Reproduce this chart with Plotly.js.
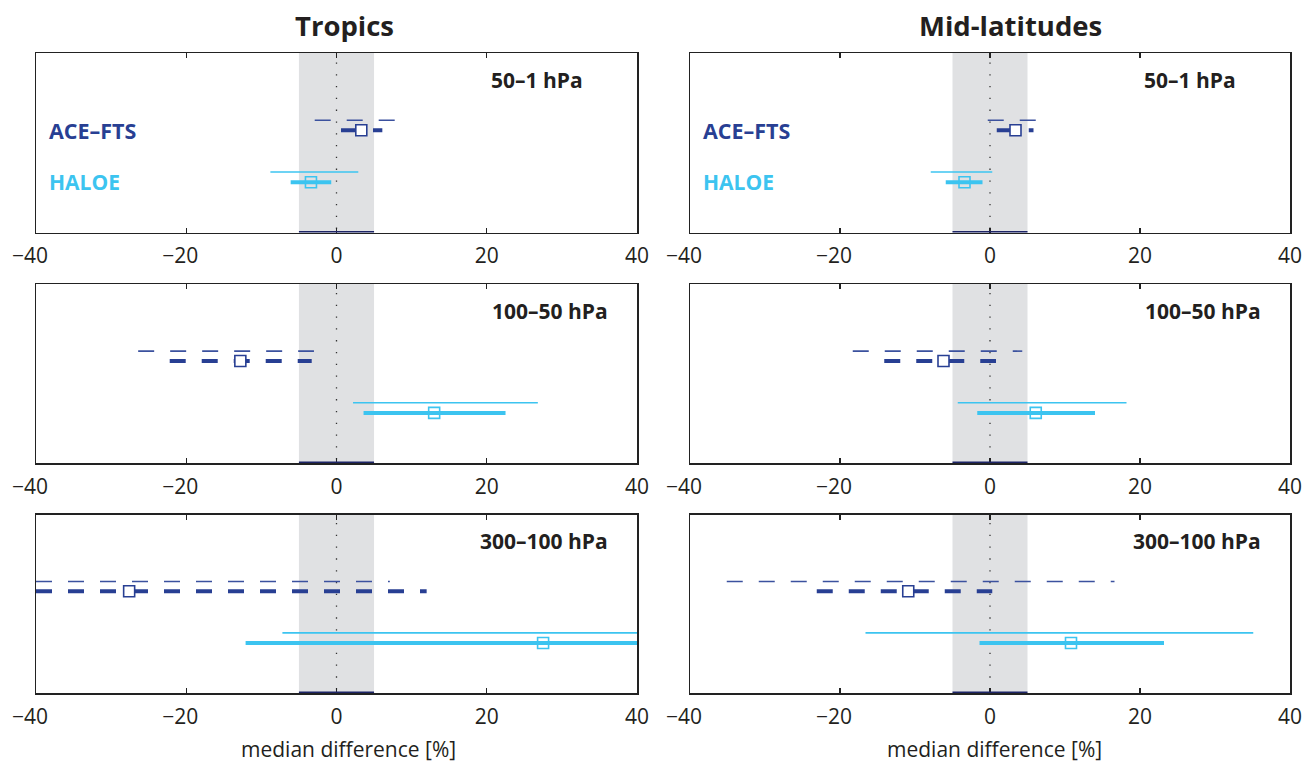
<!DOCTYPE html>
<html>
<head>
<meta charset="utf-8">
<script src="https://cdn.plot.ly/plotly-3.0.1.min.js"></script>
<style>html,body{margin:0;padding:0;background:#fff;}#chart{width:1314px;height:769px;}</style>
</head>
<body>
<div id="chart"></div>
<script>
// ---------------- data ----------------
const regions = ['50–1 hPa', '100–50 hPa', '300–100 hPa'];
const columns = ['Tropics', 'Mid-latitudes'];
const xTicks = [-40, -20, 0, 20, 40];
const bandHalfWidth = 5;

// Tropics
const aceTropMedian = [3.3, -12.8, -27.6];
const aceTropInner  = [[0.6, 6.1], [-22.2, -3.3], [-40, 12.0]];
const aceTropOuter  = [[-2.9, 7.8], [-26.4, -3.0], [-40, 7.1]];
const haloeTropMedian = [-3.4, 13.0, 27.5];
const haloeTropInner  = [[-6.1, -0.7], [3.6, 22.5], [-12.1, 41]];
const haloeTropOuter  = [[-8.8, 2.9], [2.2, 26.8], [-7.2, 41]];

// Mid-latitudes
const aceMidMedian = [3.4, -6.2, -10.9];
const aceMidInner  = [[0.9, 5.8], [-14.1, 0.8], [-23.1, 0.3]];
const aceMidOuter  = [[-0.3, 6.1], [-18.3, 4.3], [-35.1, 16.6]];
const haloeMidMedian = [-3.4, 6.1, 10.8];
const haloeMidInner  = [[-5.9, -1.0], [-1.7, 14.0], [-1.4, 23.2]];
const haloeMidOuter  = [[-7.9, 0.3], [-4.3, 18.2], [-16.6, 35.1]];

// ---------------- styling ----------------
const ACE = '#283f93';
const ACE_THIN = '#3b519e';
const HALOE = '#3cc4f0';
const TXT = '#231f20';
const FONT = '"Open Sans", "Noto Sans", sans-serif';

const yRow = {aceOuter: 6.25, aceInner: 5.7, haloeOuter: 3.37, haloeInner: 2.8};

const W = 1314, H = 769;
const colX = [[36, 637], [690, 1290]];
const rowY = [[53, 232.5], [284, 463], [514.5, 693]];
const px = v => v / W;
const py = v => 1 - v / H;

const sets = [
  {aceM: aceTropMedian, aceI: aceTropInner, aceO: aceTropOuter, haM: haloeTropMedian, haI: haloeTropInner, haO: haloeTropOuter},
  {aceM: aceMidMedian, aceI: aceMidInner, aceO: aceMidOuter, haM: haloeMidMedian, haI: haloeMidInner, haO: haloeMidOuter}
];

const traces = [];
const layout = {
  width: W, height: H,
  margin: {l: 0, r: 0, t: 0, b: 0},
  paper_bgcolor: '#fff', plot_bgcolor: '#fff',
  showlegend: false,
  font: {family: FONT, color: TXT},
  shapes: [], annotations: []
};

let k = 0;
for (let c = 0; c < 2; c++) {
  for (let r = 0; r < 3; r++) {
    k++;
    const xa = 'x' + (k === 1 ? '' : k), ya = 'y' + (k === 1 ? '' : k);
    const xk = 'xaxis' + (k === 1 ? '' : k), yk = 'yaxis' + (k === 1 ? '' : k);
    layout[xk] = {
      domain: [px(colX[c][0]), px(colX[c][1])],
      anchor: ya, range: [-40, 40],
      tickvals: xTicks,
      ticktext: xTicks.map(v => v < 0 ? '\u2212' + Math.abs(v) + '\u2007' : String(v)),
      ticks: 'inside', ticklen: 5, tickwidth: 1.2, tickcolor: '#222',
      ticklabelstandoff: 4,
      showline: true, linecolor: '#222', linewidth: 1.5, mirror: 'ticks',
      showgrid: false, zeroline: false, fixedrange: true,
      tickfont: {size: 21, family: FONT, color: TXT}
    };
    layout[yk] = {
      domain: [py(rowY[r][1]), py(rowY[r][0])],
      anchor: xa, range: [0, 10],
      showticklabels: false, ticks: '',
      showline: true, linecolor: '#222', linewidth: 1.5, mirror: true,
      showgrid: false, zeroline: false, fixedrange: true
    };
    // grey band and dotted zero line
    layout.shapes.push({type: 'rect', xref: xa, yref: ya, x0: -bandHalfWidth, x1: bandHalfWidth, y0: 0, y1: 10,
      fillcolor: '#e0e1e3', line: {width: 0}, layer: 'below'});
    layout.shapes.push({type: 'line', xref: xa, yref: ya, x0: 0, x1: 0, y0: 0.2, y1: 9.8,
      line: {color: '#333', width: 1.3, dash: '1.3px,10.5px'}, layer: 'below'});
    layout.shapes.push({type: 'line', xref: xa, yref: ya, x0: -bandHalfWidth, x1: bandHalfWidth, y0: 0, y1: 0,
      line: {color: '#1d2466', width: 3}, layer: 'above'});

    const s = sets[c];
    const add = (xs, y, color, width, dash) => traces.push({
      type: 'scatter', mode: 'lines', xaxis: xa, yaxis: ya,
      x: xs, y: [y, y], line: {color: color, width: width, dash: dash}, hoverinfo: 'skip'
    });
    add(s.aceO[r], yRow.aceOuter, ACE_THIN, 1.6, '16px,16px');
    add(s.aceI[r], yRow.aceInner, ACE, 4, '16px,16px');
    add(s.haO[r], yRow.haloeOuter, HALOE, 1.6, 'solid');
    add(s.haI[r], yRow.haloeInner, HALOE, 4, 'solid');
    traces.push({type: 'scatter', mode: 'markers', xaxis: xa, yaxis: ya, cliponaxis: true,
      x: [s.aceM[r]], y: [yRow.aceInner],
      marker: {symbol: 'square', size: 11, color: '#fff', line: {color: ACE, width: 1.6}}});
    traces.push({type: 'scatter', mode: 'markers', xaxis: xa, yaxis: ya, cliponaxis: true,
      x: [s.haM[r]], y: [yRow.haloeInner],
      marker: {symbol: 'square-open', size: 11, color: HALOE, line: {color: HALOE, width: 1.6}}});

    // region label
    layout.annotations.push({xref: xa, yref: ya, x: r === 0 ? 33.1 : 36.4, y: 8.5,
      xanchor: 'right', yanchor: 'middle', showarrow: false, text: '<b>' + regions[r] + '</b>',
      font: {size: 21, family: FONT, color: TXT}});
    if (r === 0) {
      layout.annotations.push({xref: xa + ' domain', yref: ya, x: 0.018, y: yRow.aceInner,
        xanchor: 'left', yanchor: 'middle', showarrow: false, text: '<b>ACE–FTS</b>',
        font: {size: 21.5, family: FONT, color: ACE}});
      layout.annotations.push({xref: xa + ' domain', yref: ya, x: 0.018, y: yRow.haloeInner,
        xanchor: 'left', yanchor: 'middle', showarrow: false, text: '<b>HALOE</b>',
        font: {size: 21, family: FONT, color: HALOE}});
    }
  }
}

// column titles and x-axis labels
const titleX = [344, 1010];
const xlabX = [348, 994];
for (let c = 0; c < 2; c++) {
  layout.annotations.push({xref: 'paper', yref: 'paper', x: px(titleX[c]), y: py(25),
    xanchor: 'center', yanchor: 'middle', showarrow: false, text: '<b>' + columns[c] + '</b>',
    font: {size: 27.5, family: FONT, color: TXT}});
  layout.annotations.push({xref: 'paper', yref: 'paper', x: px(xlabX[c]), y: py(749),
    xanchor: 'center', yanchor: 'middle', showarrow: false, text: 'median difference [%]',
    font: {size: 21, family: FONT, color: TXT}});
}

Plotly.newPlot('chart', traces, layout, {displayModeBar: false, staticPlot: true});
</script>
</body>
</html>
